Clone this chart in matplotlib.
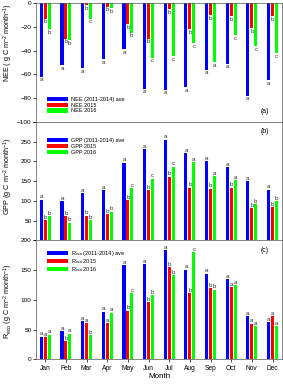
import matplotlib
matplotlib.use('Agg')
import matplotlib.pyplot as plt
import numpy as np

plt.rcParams['font.family'] = ['Liberation Sans', 'DejaVu Sans']
plt.rcParams['mathtext.default'] = 'regular'

months = ['Jan', 'Feb', 'Mar', 'Apr', 'May', 'Jun',
          'Jul', 'Aug', 'Sep', 'Oct', 'Nov', 'Dec']

# NEE (g C m-2 month-1)
nee_ave = [-62, -52, -55, -47, -39, -72, -73, -71, -56, -51, -78, -65]
nee_2015 = [-13, -30, -2, -3, -18, -30, -5, -22, -10, -11, -21, -11]
nee_2016 = [-22, -31, -13, -4, -25, -46, -45, -34, -50, -27, -36, -42]
nee_let_ave = list('aaaaaaaaaaaa')
nee_let_2015 = list('bbbbbbbbbbbb')
nee_let_2016 = ['b', 'b', 'c', 'b', 'b', 'c', 'c', 'c', 'a', 'c', 'c', 'c']

# GPP
gpp_ave = [103, 100, 120, 127, 197, 230, 255, 221, 200, 185, 150, 128]
gpp_2015 = [51, 62, 63, 67, 102, 127, 161, 133, 131, 133, 82, 84]
gpp_2016 = [61, 45, 52, 73, 132, 156, 187, 198, 162, 152, 92, 100]
gpp_let_ave = list('aaaaaaaaaaaa')
gpp_let_2015 = list('bbbbbbbbbbbb')
gpp_let_2016 = ['b', 'b', 'b', 'b', 'c', 'c', 'c', 'a', 'a', 'a', 'b', 'b']

# Reco
reco_ave = [38, 47, 64, 80, 158, 160, 184, 151, 144, 135, 72, 62]
reco_2015 = [37, 30, 61, 61, 82, 96, 155, 111, 120, 121, 60, 72]
reco_2016 = [41, 43, 40, 78, 111, 108, 142, 180, 117, 125, 56, 56]
reco_let_ave = list('aaaaaaaaaaaa')
reco_let_2015 = ['a', 'b', 'a', 'a', 'b', 'b', 'b', 'b', 'b', 'a', 'a', 'a']
reco_let_2016 = ['a', 'a', 'b', 'a', 'c', 'b', 'b', 'c', 'b', 'a', 'a', 'a']

colors = ['#0000ff', '#ff0000', '#00ff00']
x = np.arange(1, 13)
off = 0.19
w = 0.15

fig, axes = plt.subplots(3, 1, figsize=(2.83, 3.85), dpi=100, sharex=True)
fig.subplots_adjust(left=0.127, right=0.998, top=0.992, bottom=0.067, hspace=0)

panels = [
    (nee_ave, nee_2015, nee_2016, nee_let_ave, nee_let_2015, nee_let_2016,
     ['NEE (2011-2014) ave', 'NEE 2015', 'NEE 2016'],
     'NEE ( g C m$^{-2}$ month$^{-1}$)', 0.15),
    (gpp_ave, gpp_2015, gpp_2016, gpp_let_ave, gpp_let_2015, gpp_let_2016,
     ['GPP (2011-2014) ave', 'GPP 2015', 'GPP 2016'],
     'GPP (g C m$^{-2}$ month$^{-1}$)', 0.15),
    (reco_ave, reco_2015, reco_2016, reco_let_ave, reco_let_2015, reco_let_2016,
     ['R$_{eco}$ (2011-2014) ave', 'R$_{eco}$ 2015', 'R$_{eco}$ 2016'],
     'R$_{eco}$ (g C m$^{-2}$ month$^{-1}$)', -0.15),
]

for ax, p in zip(axes, panels):
    series = p[0:3]
    lets = p[3:6]
    labels = p[6]
    for k in range(3):
        xs = x + (k - 1) * off
        ax.bar(xs, series[k], width=w, color=colors[k], label=labels[k], linewidth=0)
        for xi, v, t in zip(xs, series[k], lets[k]):
            if v < 0:
                ax.annotate(t, (xi, v), xytext=(0, -0.5), textcoords='offset points',
                            ha='center', va='top', fontsize=4.4, color='#333333')
            else:
                ax.annotate(t, (xi, v), xytext=(0, 0.3), textcoords='offset points',
                            ha='center', va='bottom', fontsize=4.4, color='#333333')
    ax.set_ylabel(p[7], fontsize=5.2)
    ax.tick_params(axis='both', labelsize=4.6, length=2, width=0.5, pad=1)
    for s in ax.spines.values():
        s.set_linewidth(0.5)
        s.set_color('#555555')
    ax.legend(loc='lower left', bbox_to_anchor=(0.045, 0.07), frameon=False,
              fontsize=4.0, handlelength=3.8, handleheight=0.8,
              labelspacing=p[8], handletextpad=0.5, borderpad=0, borderaxespad=0)
    ax.set_xlim(0.55, 12.48)

ax_a, ax_b, ax_c = axes
ax_a.set_ylim(-100, 0)
ax_a.set_yticks([0, -20, -40, -60, -80, -100])
ax_a.yaxis.set_label_coords(-0.085, 0.67)
ax_a.text(0.93, 0.085, '(a)', transform=ax_a.transAxes, ha='center', va='center', fontsize=5)

ax_b.set_ylim(0, 300)
ax_b.set_yticks([0, 50, 100, 150, 200, 250, 300])
ax_b.set_yticklabels(['', '50', '100', '150', '200', '250', ''])
ax_b.yaxis.set_label_coords(-0.085, 0.54)
ax_b.legend_.set_bbox_to_anchor((0.045, 0.72))
ax_b.text(0.93, 0.915, '(b)', transform=ax_b.transAxes, ha='center', va='center', fontsize=5)

ax_c.set_ylim(0, 200)
ax_c.set_yticks([0, 50, 100, 150, 200])
ax_c.yaxis.set_label_coords(-0.085, 0.49)
ax_c.legend_.set_bbox_to_anchor((0.045, 0.72))
ax_c.text(0.93, 0.915, '(c)', transform=ax_c.transAxes, ha='center', va='center', fontsize=5)

ax_c.set_xticks(x)
ax_c.set_xticklabels(months)
ax_c.tick_params(axis='x', labelsize=4.8, pad=2)
ax_c.set_xlabel('Month', fontsize=5.8, labelpad=1)
for ax in axes[:2]:
    ax.tick_params(axis='x', labelbottom=False)

fig.savefig('out.png', dpi=100)
